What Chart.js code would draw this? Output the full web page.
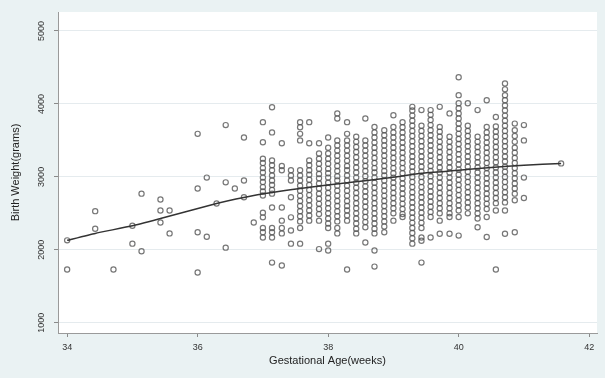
<!DOCTYPE html>
<html>
<head>
<meta charset="utf-8">
<script src="https://cdn.jsdelivr.net/npm/chart.js@4/dist/chart.umd.min.js"></script>
<style>
  html, body { margin: 0; padding: 0; background: #eaf2f3; }
  canvas { display: block; }
</style>
</head>
<body>
<canvas id="myChart" width="605" height="378"></canvas>
<script>
// gestational age (weeks) of each column of points
const gestAge = [
  34, 34.43, 34.71, 35, 35.14, 35.43, 35.57, 36, 36.14, 36.29, 36.43, 36.57, 36.71, 36.86,
  37, 37.14, 37.29, 37.43, 37.57, 37.71, 37.86,
  38, 38.14, 38.29, 38.43, 38.57, 38.71, 38.86,
  39, 39.14, 39.29, 39.43, 39.57, 39.71, 39.86,
  40, 40.14, 40.29, 40.43, 40.57, 40.71, 40.86,
  41, 41.57
];

// birth weights (grams) observed at each age above
const birthWeight = [
  [1730, 2130],
  [2290, 2530],
  [1730],
  [2085, 2330],
  [1980, 2770],
  [2690, 2540, 2375],
  [2540, 2225],
  [3590, 2840, 2240, 1690],
  [2990, 2180],
  [2635],
  [3710, 2925, 2030],
  [2840],
  [3540, 2950, 2720],
  [2375],
  [3750, 3475, 3250, 3190, 3120, 3060, 2990, 2930, 2860, 2800, 2745, 2510, 2445, 2300, 2240, 2170],
  [3955, 3610, 3225, 3160, 3090, 3020, 2950, 2890, 2820, 2770, 2580, 2300, 2240, 2170, 1825],
  [3460, 3150, 3090, 2580, 2400, 2300, 2225, 1785],
  [3090, 3020, 2950, 2720, 2445, 2265, 2085],
  [3750, 3680, 3590, 3500, 3090, 3020, 2950, 2880, 2810, 2740, 2670, 2600, 2530, 2460, 2390, 2300, 2085],
  [3750, 3460, 3225, 3160, 3090, 3030, 2960, 2890, 2820, 2750, 2680, 2610, 2540, 2470, 2400],
  [3460, 3320, 3250, 3180, 3110, 3040, 2980, 2910, 2840, 2770, 2700, 2630, 2560, 2490, 2400, 2010],
  [3540, 3400, 3320, 3250, 3180, 3110, 3050, 2990, 2920, 2850, 2780, 2710, 2640, 2570, 2500, 2430, 2360, 2300, 2085, 1990],
  [3870, 3800, 3500, 3430, 3360, 3290, 3220, 3150, 3080, 3010, 2950, 2880, 2810, 2740, 2670, 2600, 2530, 2460, 2390, 2300, 2225],
  [3750, 3590, 3500, 3430, 3360, 3290, 3220, 3150, 3090, 3020, 2950, 2880, 2810, 2740, 2670, 2600, 2540, 2470, 2400, 1730],
  [3550, 3480, 3410, 3340, 3270, 3200, 3130, 3060, 2990, 2920, 2850, 2780, 2710, 2640, 2570, 2500, 2430, 2360, 2290, 2225],
  [3800, 3500, 3430, 3360, 3290, 3220, 3150, 3080, 3010, 2940, 2870, 2800, 2730, 2660, 2590, 2520, 2450, 2380, 2310, 2100],
  [3685, 3610, 3540, 3470, 3400, 3330, 3260, 3190, 3120, 3060, 2990, 2920, 2850, 2780, 2710, 2640, 2570, 2500, 2430, 2360, 2290, 2225, 1990, 1770],
  [3640, 3570, 3500, 3430, 3360, 3290, 3220, 3150, 3080, 3020, 2950, 2880, 2810, 2740, 2670, 2600, 2530, 2460, 2390, 2320, 2240],
  [3845, 3685, 3610, 3540, 3470, 3400, 3330, 3260, 3190, 3120, 3050, 2990, 2920, 2850, 2780, 2710, 2640, 2570, 2500, 2400],
  [3750, 3680, 3610, 3540, 3470, 3400, 3330, 3260, 3190, 3120, 3050, 2980, 2910, 2840, 2770, 2700, 2630, 2560, 2490, 2450],
  [3960, 3910, 3840, 3770, 3700, 3630, 3560, 3490, 3420, 3350, 3280, 3210, 3140, 3070, 3000, 2930, 2860, 2790, 2720, 2650, 2580, 2510, 2440, 2370, 2300, 2230, 2160, 2085],
  [3915, 3700, 3630, 3560, 3490, 3420, 3350, 3280, 3210, 3140, 3070, 3000, 2930, 2860, 2790, 2720, 2650, 2580, 2510, 2440, 2370, 2300, 2170, 2125, 1825],
  [3915, 3850, 3780, 3710, 3640, 3570, 3500, 3430, 3360, 3290, 3220, 3150, 3080, 3010, 2940, 2870, 2800, 2730, 2660, 2590, 2520, 2450, 2170],
  [3960, 3685, 3620, 3550, 3480, 3410, 3340, 3270, 3200, 3130, 3060, 2990, 2920, 2850, 2780, 2710, 2640, 2570, 2500, 2400, 2220],
  [3870, 3550, 3480, 3410, 3340, 3270, 3200, 3130, 3060, 2990, 2920, 2850, 2780, 2710, 2640, 2570, 2500, 2450, 2220],
  [4365, 4120, 4010, 3940, 3870, 3800, 3730, 3660, 3590, 3520, 3450, 3380, 3310, 3240, 3170, 3100, 3030, 2960, 2890, 2820, 2750, 2680, 2610, 2540, 2450, 2195],
  [4010, 3700, 3630, 3560, 3490, 3420, 3350, 3280, 3210, 3140, 3070, 3000, 2930, 2860, 2790, 2720, 2650, 2580, 2500],
  [3915, 3550, 3480, 3410, 3340, 3270, 3200, 3130, 3060, 2990, 2920, 2850, 2780, 2710, 2640, 2570, 2500, 2430, 2310],
  [4050, 3685, 3610, 3540, 3470, 3400, 3330, 3260, 3190, 3120, 3050, 2980, 2910, 2840, 2770, 2700, 2630, 2560, 2450, 2175],
  [3820, 3690, 3620, 3550, 3480, 3410, 3340, 3270, 3200, 3130, 3060, 2990, 2920, 2850, 2780, 2710, 2640, 2540, 1730],
  [4280, 4200, 4120, 4050, 3980, 3910, 3840, 3770, 3700, 3630, 3560, 3490, 3420, 3350, 3280, 3210, 3140, 3070, 3000, 2930, 2860, 2790, 2720, 2650, 2540, 2220],
  [3730, 3640, 3560, 3480, 3400, 3330, 3260, 3190, 3120, 3050, 2980, 2910, 2840, 2770, 2680, 2240],
  [3710, 3500, 2990, 2710],
  [3185]
];

// smoothed fit line
const fitAge    = [34, 34.43, 35, 35.43, 36.29, 36.86, 37.57, 38.29, 38.97, 39.43, 40, 40.5, 41, 41.57];
const fitWeight = [2130, 2225, 2330, 2430, 2635, 2745, 2840, 2920, 2990, 3050, 3090, 3130, 3160, 3185];

const xTicks = [34, 36, 38, 40, 42];
const yTicks = [1000, 2000, 3000, 4000, 5000];

const points = [];
gestAge.forEach((a, i) => {
  birthWeight[i].forEach(w => points.push({ x: a, y: w }));
});
const fitPoints = fitAge.map((a, i) => ({ x: a, y: fitWeight[i] }));

const plotBg = {
  id: 'plotBg',
  beforeDraw(chart) {
    const { ctx, chartArea: a } = chart;
    ctx.save();
    ctx.fillStyle = '#ffffff';
    ctx.fillRect(a.left, a.top, a.right - a.left, a.bottom - a.top);
    ctx.restore();
  }
};

const tickFont = { family: 'Liberation Sans', size: 9 };
const titleFont = { family: 'Liberation Sans', size: 11 };

const ctx = document.getElementById('myChart').getContext('2d');
const myChart = new Chart(ctx, {
  type: 'scatter',
  data: {
    datasets: [
      {
        type: 'line',
        label: 'fit',
        data: fitPoints,
        borderColor: '#333333',
        borderWidth: 1.5,
        pointRadius: 0,
        fill: false,
        tension: 0.15,
        order: 0
      },
      {
        label: 'Birth Weight',
        data: points,
        pointStyle: 'circle',
        pointRadius: 2.6,
        borderWidth: 1.2,
        borderColor: 'rgba(85,85,85,0.8)',
        backgroundColor: 'rgba(0,0,0,0)',
        order: 1
      }
    ]
  },
  options: {
    responsive: false,
    animation: false,
    layout: { padding: { top: 12, right: 8, left: 0, bottom: 0 } },
    plugins: {
      legend: { display: false },
      tooltip: { enabled: false }
    },
    scales: {
      x: {
        type: 'linear',
        min: 33.86,
        max: 42.12,
        afterBuildTicks: s => { s.ticks = xTicks.map(v => ({ value: v })); },
        afterFit: s => { s.height = 45; },
        grid: { drawOnChartArea: false, tickLength: 4, tickColor: '#8a8a8a' },
        border: { color: '#9a9a9a', width: 1 },
        ticks: { color: '#333', font: tickFont, padding: 5, maxRotation: 0 },
        title: { display: true, text: 'Gestational Age(weeks)', color: '#222', font: titleFont, padding: { top: 0, bottom: 10 } }
      },
      y: {
        type: 'linear',
        min: 860,
        max: 5260,
        afterBuildTicks: s => { s.ticks = yTicks.map(v => ({ value: v })); },
        afterFit: s => { s.width = 58; },
        grid: { color: '#e5ebee', tickLength: 4, tickColor: '#8a8a8a' },
        border: { color: '#9a9a9a', width: 1 },
        ticks: {
          color: '#333', font: tickFont, padding: 2, minRotation: 90, maxRotation: 90, crossAlign: 'center',
          callback: v => String(v)
        },
        title: { display: true, text: 'Birth Weight(grams)', color: '#222', font: titleFont, padding: { top: 9, bottom: 0 } }
      }
    }
  },
  plugins: [plotBg]
});
</script>
</body>
</html>
